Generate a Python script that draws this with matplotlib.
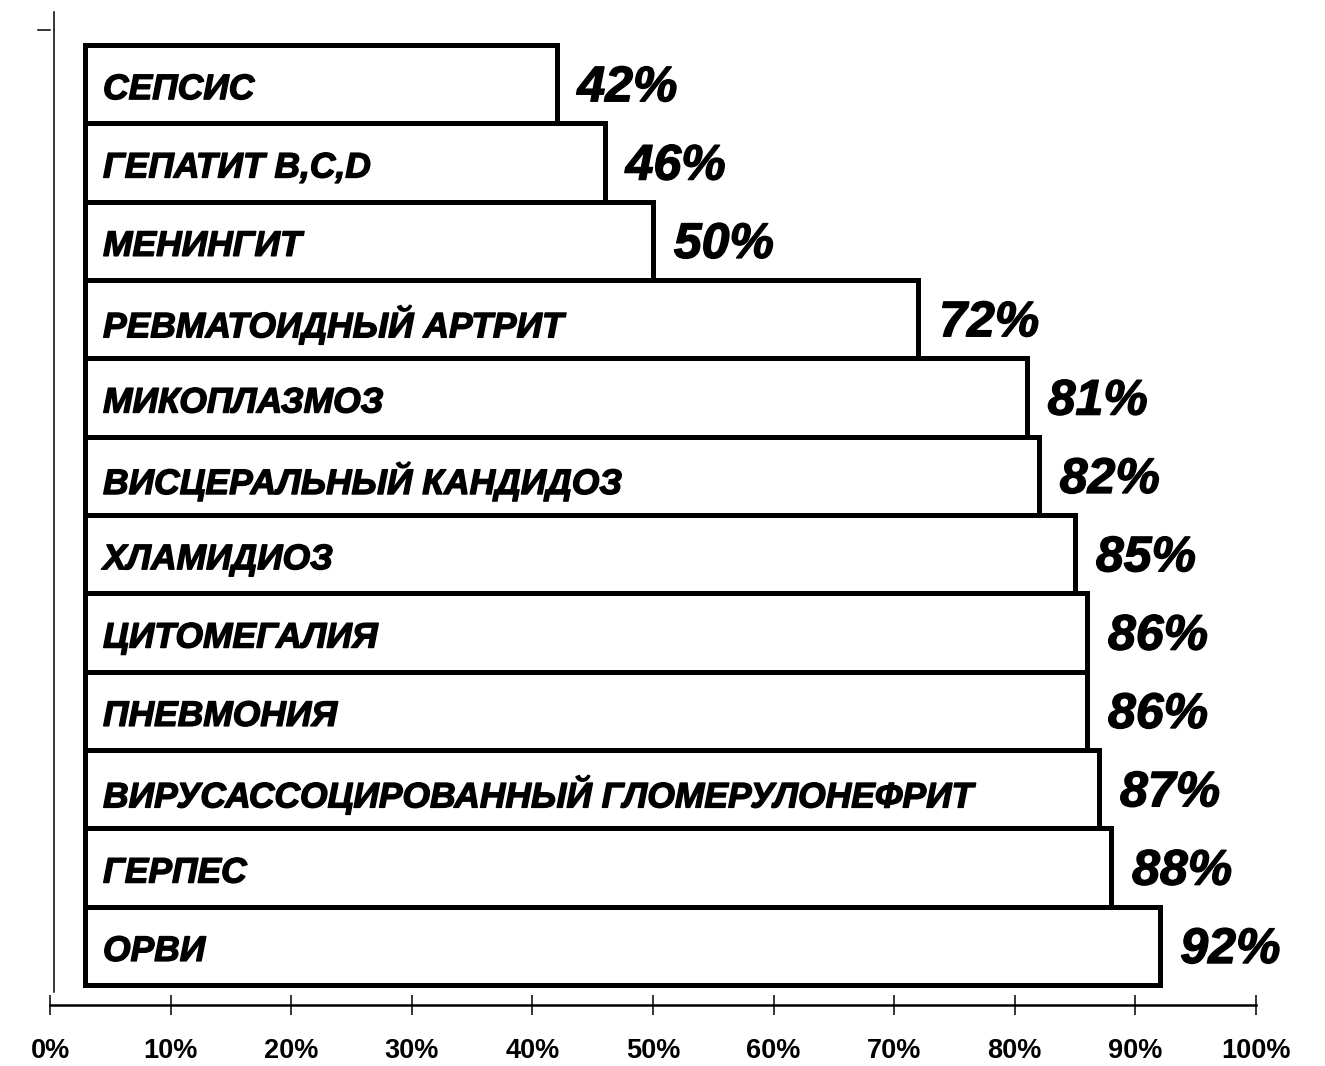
import matplotlib.pyplot as plt
import matplotlib.patheffects as pe
from matplotlib.transforms import blended_transform_factory

# Disease categories, bottom to top
diseases = [
    'ОРВИ', 'ГЕРПЕС', 'ВИРУСАССОЦИРОВАННЫЙ ГЛОМЕРУЛОНЕФРИТ', 'ПНЕВМОНИЯ',
    'ЦИТОМЕГАЛИЯ', 'ХЛАМИДИОЗ', 'ВИСЦЕРАЛЬНЫЙ КАНДИДОЗ', 'МИКОПЛАЗМОЗ',
    'РЕВМАТОИДНЫЙ АРТРИТ', 'МЕНИНГИТ', 'ГЕПАТИТ B,C,D', 'СЕПСИС',
]
percent = [92, 88, 87, 86, 86, 85, 82, 81, 72, 50, 46, 42]
x_ticks = [0, 10, 20, 30, 40, 50, 60, 70, 80, 90, 100]
bar_start = 2.9

plt.rcParams['font.family'] = ['Liberation Sans', 'DejaVu Sans']

W, H = 1325, 1066
fig = plt.figure(figsize=(W / 100, H / 100), dpi=100)
ax = fig.add_axes([50 / W, (H - 1005) / H, (1256 - 50) / W, (1005 - 12) / H])

y = list(range(len(diseases)))
widths = [p - bar_start for p in percent]
ax.barh(y, widths, left=bar_start, height=1.0, color='white',
        edgecolor='black', linewidth=3.6, zorder=2)

heavy = [pe.withStroke(linewidth=1.0, foreground='black')]
for yi, name, p in zip(y, diseases, percent):
    ax.annotate(name, (bar_start, yi), xytext=(13, -4), textcoords='offset points',
                ha='left', va='center', fontsize=25.5, fontweight='bold',
                fontstyle='italic', path_effects=heavy, zorder=3)
    ax.annotate(f'{p}%', (p, yi), xytext=(15, -3), textcoords='offset points',
                ha='left', va='center', fontsize=36, fontweight='bold',
                fontstyle='italic', path_effects=heavy, zorder=3)

ax.set_xlim(0, 100)
ax.set_ylim(-0.755, 11.92)
ax.set_xticks(x_ticks)
ax.set_xticklabels([f'{t}%' for t in x_ticks], fontsize=19.5, fontweight='bold')
ax.tick_params(axis='x', direction='inout', length=14, width=1.1, pad=17)
ax.set_yticks([])

for side in ('top', 'right', 'left'):
    ax.spines[side].set_visible(False)
ax.spines['bottom'].set_linewidth(1.8)

# free-standing vertical axis line with its single tick
trans = blended_transform_factory(ax.transData, ax.transAxes)
ax.plot([0.33, 0.33], [0.013, 1.0], color='black', lw=1.1,
        transform=trans, clip_on=False)
ax.plot([-1.0, 0.0], [0.982, 0.982], color='black', lw=1.1,
        transform=trans, clip_on=False)

fig.savefig('out.png', dpi=100)
